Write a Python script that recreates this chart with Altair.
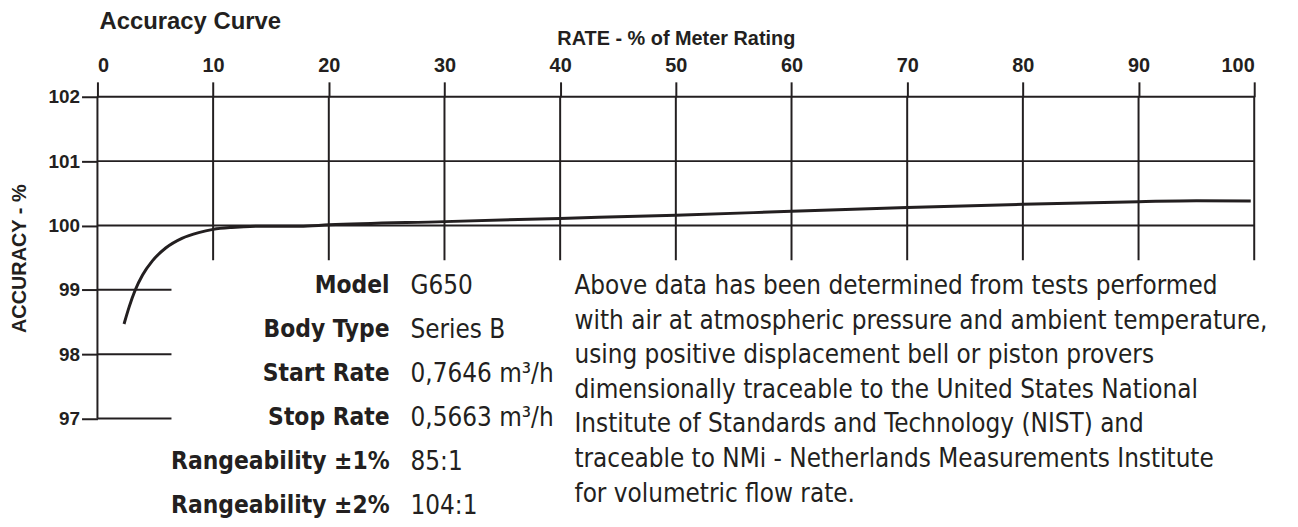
import altair as alt
import pandas as pd

# ---- data ----
rate = [2.3, 2.75, 3.25, 3.9, 4.75, 5.9, 7.3, 8.75, 10.0, 11.6, 14.5, 17.5, 20, 30, 40, 50, 60, 70, 80, 90, 95, 99.7]
accuracy = [98.47, 98.74, 98.99, 99.23, 99.45, 99.65, 99.8, 99.89, 99.94, 99.97, 99.99, 99.99,
            100.01, 100.06, 100.11, 100.16, 100.22, 100.28, 100.33, 100.37, 100.385, 100.38]

x_ticks = [0, 10, 20, 30, 40, 50, 60, 70, 80, 90, 100]
y_ticks = [97, 98, 99, 100, 101, 102]
full_h_lines = [100, 101, 102]
short_h_lines = [97, 98, 99]

spec_labels = ["Model", "Body Type", "Start Rate", "Stop Rate", "Rangeability ±1%", "Rangeability ±2%"]
spec_values = ["G650", "Series B", "0,7646 m³/h", "0,5663 m³/h", "85:1", "104:1"]

note_lines = [
    "Above data has been determined from tests performed",
    "with air at atmospheric pressure and ambient temperature,",
    "using positive displacement bell or piston provers",
    "dimensionally traceable to the United States National",
    "Institute of Standards and Technology (NIST) and",
    "traceable to NMi - Netherlands Measurements Institute",
    "for volumetric flow rate.",
]

title_text = "Accuracy Curve"
x_title = "RATE - % of Meter Rating"
y_title = "ACCURACY - %"

# ---- layout constants ----
INK = "#231f20"
BOLD = "Liberation Sans"
COND = "Liberation Sans Narrow, DejaVu Sans Condensed, Liberation Sans"
SHORT_END = 6.4
V_END = 99.46

curve_df = pd.DataFrame({"rate": rate, "acc": accuracy})
hfull = pd.DataFrame({"y": full_h_lines, "x": 0, "x2": 100})
hshort = pd.DataFrame({"y": short_h_lines, "x": 0, "x2": SHORT_END})
hlines = pd.concat([hfull, hshort])
vlines = pd.DataFrame({"x": x_ticks,
                       "y": [102] * len(x_ticks),
                       "y2": [97] + [V_END] * (len(x_ticks) - 1)})

xs = alt.Scale(domain=[0, 100], nice=False, zero=False)
ys = alt.Scale(domain=[95.5, 102], nice=False, zero=False)

base_x_axis = alt.Axis(orient="top", values=x_ticks, format="d", labelFont=BOLD, labelFontWeight="bold",
                       labelFontSize=20, labelColor=INK, tickSize=15, tickWidth=2, tickColor=INK,
                       labelPadding=6, domain=False, grid=False, title=x_title, titleFont=BOLD,
                       titleFontSize=20, titleFontWeight="bold", titleColor=INK, titlePadding=8)
base_y_axis = alt.Axis(orient="left", values=y_ticks, format="d", labelFont=BOLD, labelFontWeight="bold",
                       labelFontSize=19, labelColor=INK, tickSize=16, tickWidth=2, tickColor=INK,
                       labelPadding=2, domain=False, grid=False, title=None)

h = alt.Chart(hlines).mark_rule(color=INK, strokeWidth=2).encode(
    x=alt.X("x:Q", scale=xs, axis=base_x_axis),
    x2="x2:Q",
    y=alt.Y("y:Q", scale=ys, axis=base_y_axis),
)
v = alt.Chart(vlines).mark_rule(color=INK, strokeWidth=2).encode(
    x=alt.X("x:Q", scale=xs),
    y=alt.Y("y:Q", scale=ys),
    y2="y2:Q",
)
curve = alt.Chart(curve_df).mark_line(color=INK, strokeWidth=3, interpolate="monotone").encode(
    x=alt.X("rate:Q", scale=xs),
    y=alt.Y("acc:Q", scale=ys),
)

title = alt.Chart(pd.DataFrame({"t": [title_text]})).mark_text(
    font=BOLD, fontWeight="bold", fontSize=24, color=INK, align="left", baseline="alphabetic"
).encode(text="t:N", x=alt.value(2), y=alt.value(-68.5))

ytitle = alt.Chart(pd.DataFrame({"t": [y_title]})).mark_text(
    font=BOLD, fontWeight="bold", fontSize=20, color=INK, align="center", baseline="middle", angle=270
).encode(text="t:N", x=alt.value(-78), y=alt.value(163))

labels = alt.Chart(pd.DataFrame({"k": [0]})).mark_text(
    font=COND, fontWeight="bold", fontSize=24.5, color=INK, align="right", baseline="middle", lineHeight=44.4
).encode(text=alt.value(spec_labels), x=alt.value(294), y=alt.value(190))

values = alt.Chart(pd.DataFrame({"k": [0]})).mark_text(
    font=COND, fontSize=26, color=INK, align="left", baseline="middle", lineHeight=44.4
).encode(text=alt.value(spec_values), x=alt.value(315), y=alt.value(190))

note = alt.Chart(pd.DataFrame({"k": [0]})).mark_text(
    font=COND, fontSize=26, color=INK, align="left", baseline="middle", lineHeight=34.8
).encode(text=alt.value(note_lines), x=alt.value(480), y=alt.value(190.5))

chart = alt.layer(h, v, curve, title, ytitle, labels, values, note).properties(
    width=1164, height=421,
    autosize=alt.AutoSizeParams(type="none"),
    padding={"left": 90, "top": 87.7, "right": 36, "bottom": 10},
).configure(background="white").configure_view(stroke=None)

chart.save("out.html", embed_options={"renderer": "svg", "actions": False})
